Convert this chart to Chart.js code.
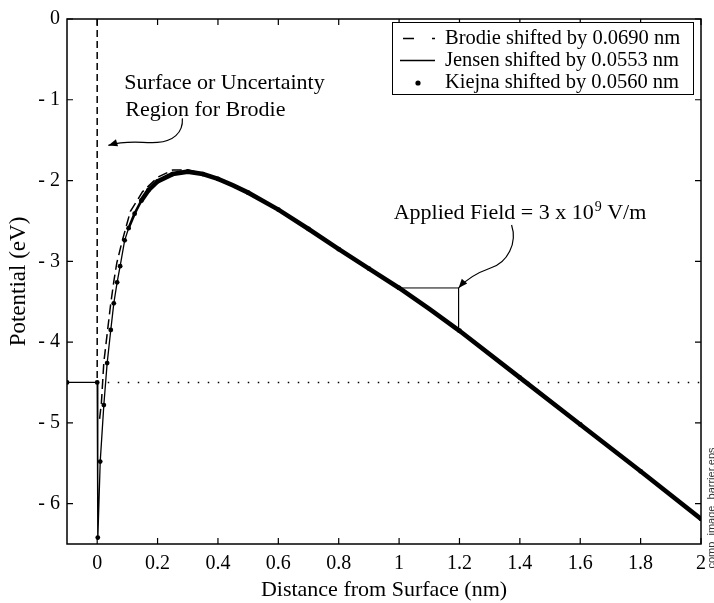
<!DOCTYPE html>
<html lang="en">
<head>
<meta charset="UTF-8">
<title>Shifted Image Potential Barriers</title>
<script src="https://cdn.jsdelivr.net/npm/chart.js@4.4.1/dist/chart.umd.min.js"></script>
<style>
  html, body { margin: 0; padding: 0; background: #fff; }
  #wrap { width: 714px; height: 603px; }
</style>
</head>
<body>
<div id="wrap"><canvas id="barrierChart" width="714" height="603"></canvas></div>
<script>
// Jensen barrier (solid), nm vs eV
const jensenX = [-0.1, 0, 0.002, 0.01, 0.022, 0.033, 0.045, 0.055, 0.066, 0.076, 0.091, 0.104, 0.124, 0.146,
                 0.17, 0.2, 0.25, 0.3, 0.35, 0.4, 0.45, 0.5, 0.6, 0.7, 0.8, 0.9, 1.0, 1.1, 1.2, 1.4, 1.6, 1.8, 2.0];
const jensenV = [-4.5, -4.5, -6.45, -5.48, -4.78, -4.26, -3.85, -3.52, -3.26, -3.06, -2.74, -2.59, -2.41, -2.25,
                 -2.12, -2.01, -1.92, -1.89, -1.92, -1.98, -2.06, -2.15, -2.36, -2.6, -2.85, -3.09, -3.33, -3.59, -3.86, -4.44, -5.02, -5.6, -6.19];

// Kiejna barrier (dots)
const kiejnaX = [-0.1, 0, 0.002, 0.01, 0.022, 0.033, 0.045, 0.055, 0.066, 0.076, 0.091, 0.104, 0.124, 0.146,
                 0.17, 0.2, 0.25, 0.3, 0.35, 0.4, 0.5, 0.6, 0.7, 0.8, 0.9, 1.0, 1.2, 1.4, 1.6, 1.8, 2.0];
const kiejnaV = [-4.5, -4.5, -6.42, -5.48, -4.78, -4.26, -3.85, -3.52, -3.26, -3.06, -2.74, -2.59, -2.41, -2.25,
                 -2.12, -2.01, -1.92, -1.89, -1.92, -1.98, -2.15, -2.36, -2.6, -2.85, -3.09, -3.33, -3.86, -4.44, -5.02, -5.6, -6.19];

// Brodie barrier (dashed)
const brodieX = [0.008, 0.014, 0.022, 0.033, 0.044, 0.055, 0.065, 0.082, 0.11, 0.15, 0.2, 0.25, 0.3, 0.35, 0.4,
                 0.5, 0.6, 0.8, 1.0, 1.2, 1.4, 1.6, 1.8, 2.0];
const brodieV = [-4.95, -4.75, -4.25, -3.9, -3.55, -3.25, -3.02, -2.76, -2.38, -2.14, -1.96, -1.87, -1.87, -1.91, -1.97,
                 -2.15, -2.36, -2.85, -3.33, -3.86, -4.44, -5.02, -5.6, -6.19];

// surface / uncertainty region for Brodie
const surfaceX = [0, 0];
const surfaceV = [0, -4.5];

// Fermi level
const fermiX = [0.035, 2];
const fermiV = [-4.5, -4.5];

// slope triangle for the applied field
const fieldX = [1.008, 1.197, 1.197];
const fieldV = [-3.33, -3.33, -3.86];

const xTicks = [0, 0.2, 0.4, 0.6, 0.8, 1, 1.2, 1.4, 1.6, 1.8, 2];
const xTickLabels = ['0', '0.2', '0.4', '0.6', '0.8', '1', '1.2', '1.4', '1.6', '1.8', '2'];
const yTicks = [0, -1, -2, -3, -4, -5, -6];
const yTickLabels = ['0', '- 1', '- 2', '- 3', '- 4', '- 5', '- 6'];

const seriesLabels = ['Brodie shifted by 0.0690 nm', 'Jensen shifted by 0.0553 nm', 'Kiejna shifted by 0.0560 nm'];

const SERIF = "'Liberation Serif', 'Times New Roman', Times, serif";

function pts(xs, vs) {
  return xs.map((x, i) => ({ x: x, y: vs[i] }));
}

function arrowHead(ctx, fromX, fromY, tipX, tipY) {
  const ang = Math.atan2(tipY - fromY, tipX - fromX);
  const len = 9, half = 3.6;
  ctx.beginPath();
  ctx.moveTo(tipX, tipY);
  ctx.lineTo(tipX - len * Math.cos(ang) + half * Math.sin(ang), tipY - len * Math.sin(ang) - half * Math.cos(ang));
  ctx.lineTo(tipX - len * Math.cos(ang) - half * Math.sin(ang), tipY - len * Math.sin(ang) + half * Math.cos(ang));
  ctx.closePath();
  ctx.fill();
}

// curvy arrow: two cubic pieces given as offsets from the tip
function curlyArrow(ctx, tx, ty, o) {
  ctx.beginPath();
  ctx.moveTo(tx + o[0], ty + o[1]);
  ctx.bezierCurveTo(tx + o[2], ty + o[3], tx + o[4], ty + o[5], tx + o[6], ty + o[7]);
  ctx.bezierCurveTo(tx + o[8], ty + o[9], tx + o[10], ty + o[11], tx, ty);
  ctx.stroke();
  arrowHead(ctx, tx + o[10], ty + o[11], tx, ty);
}

const paperPlugin = {
  id: 'paper',
  beforeDraw(chart) {
    const ctx = chart.ctx;
    ctx.save();
    ctx.fillStyle = '#fff';
    ctx.fillRect(0, 0, chart.width, chart.height);
    ctx.restore();
  },
  afterDraw(chart) {
    const { ctx, chartArea: a } = chart;
    const xs = chart.scales.x, ys = chart.scales.y;
    ctx.save();

    // axes box with inward ticks on all sides
    ctx.strokeStyle = '#000';
    ctx.lineWidth = 1.5;
    ctx.strokeRect(a.left, a.top, a.right - a.left, a.bottom - a.top);
    ctx.lineWidth = 1.2;
    ctx.beginPath();
    xTicks.forEach(v => {
      const px = xs.getPixelForValue(v);
      ctx.moveTo(px, a.bottom); ctx.lineTo(px, a.bottom - 6);
      ctx.moveTo(px, a.top); ctx.lineTo(px, a.top + 6);
    });
    yTicks.forEach(v => {
      const py = ys.getPixelForValue(v);
      ctx.moveTo(a.left, py); ctx.lineTo(a.left + 6, py);
      ctx.moveTo(a.right, py); ctx.lineTo(a.right - 6, py);
    });
    ctx.stroke();

    // legend box
    const lx = 392.5, ly = 22.5, lw = 301, lh = 72;
    ctx.fillStyle = '#fff';
    ctx.fillRect(lx, ly, lw, lh);
    ctx.lineWidth = 1;
    ctx.strokeRect(lx, ly, lw, lh);
    ctx.lineWidth = 1.5;
    ctx.beginPath();
    ctx.moveTo(403, 38.5); ctx.lineTo(414, 38.5);
    ctx.moveTo(432, 38.5); ctx.lineTo(435, 38.5);
    ctx.moveTo(400, 60.5); ctx.lineTo(435, 60.5);
    ctx.stroke();
    ctx.fillStyle = '#000';
    ctx.beginPath();
    ctx.arc(418, 83, 2.6, 0, Math.PI * 2);
    ctx.fill();
    ctx.font = '20.5px ' + SERIF;
    ctx.textAlign = 'left';
    ctx.textBaseline = 'alphabetic';
    ctx.fillText(seriesLabels[0], 445, 43.5);
    ctx.fillText(seriesLabels[1], 445, 65.5);
    ctx.fillText(seriesLabels[2], 445, 87.5);

    // annotations
    ctx.font = '22px ' + SERIF;
    const sx = xs.getPixelForValue(0.09);
    ctx.fillText('Surface or Uncertainty', sx, ys.getPixelForValue(-0.872));
    ctx.fillText('Region for Brodie', sx + 1, ys.getPixelForValue(-1.198));

    const fx = xs.getPixelForValue(0.982), fy = ys.getPixelForValue(-2.48);
    const part1 = 'Applied Field = 3 x 10';
    ctx.fillText(part1, fx, fy);
    let w = ctx.measureText(part1).width;
    ctx.font = '14px ' + SERIF;
    ctx.fillText('9', fx + w + 1, fy - 8);
    w += ctx.measureText('9').width + 1;
    ctx.font = '22px ' + SERIF;
    ctx.fillText(' V/m', fx + w, fy);

    ctx.lineWidth = 1.2;
    ctx.strokeStyle = '#000';
    curlyArrow(ctx, xs.getPixelForValue(0.037), ys.getPixelForValue(-1.565),
      [74, -27, 75, -12, 64, -4, 49, -3, 34, -2, 20, -6]);
    curlyArrow(ctx, xs.getPixelForValue(1.197), ys.getPixelForValue(-3.33),
      [53, -63, 59, -45, 49, -25, 32, -20, 18, -15, 7, -8]);

    // file tag along the right edge
    ctx.save();
    ctx.translate(714.5, 508);
    ctx.rotate(-Math.PI / 2);
    ctx.font = '11px "Liberation Sans", Arial, sans-serif';
    ctx.fillStyle = '#333';
    ctx.textAlign = 'center';
    ctx.fillText('comp_image_barrier.eps', 0, 0);
    ctx.restore();

    ctx.restore();
  }
};

const ctx = document.getElementById('barrierChart').getContext('2d');
const barrierChart = new Chart(ctx, {
  type: 'scatter',
  data: {
    datasets: [
      {
        label: seriesLabels[2],
        data: pts(kiejnaX, kiejnaV),
        showLine: false,
        pointRadius: 2.4,
        pointBackgroundColor: '#000',
        pointBorderWidth: 0,
        order: 0
      },
      {
        label: seriesLabels[1],
        data: pts(jensenX, jensenV),
        showLine: true,
        borderColor: '#000',
        borderWidth: 1.3,
        pointRadius: 0,
        segment: {
          borderWidth: c => c.p0.parsed.x >= 0.146 ? 4.6 : (c.p0.parsed.x >= 0.1 ? 2.6 : 1.3)
        },
        order: 1
      },
      {
        label: seriesLabels[0],
        data: pts(brodieX, brodieV),
        showLine: true,
        borderColor: '#000',
        borderWidth: 1.5,
        borderDash: [10, 5],
        pointRadius: 0,
        order: 2
      },
      {
        label: 'surface',
        data: pts(surfaceX, surfaceV),
        showLine: true,
        borderColor: '#000',
        borderWidth: 1.5,
        borderDash: [7, 4],
        pointRadius: 0,
        order: 3
      },
      {
        label: 'fermi',
        data: pts(fermiX, fermiV),
        showLine: true,
        borderColor: '#000',
        borderWidth: 1.5,
        borderDash: [1.5, 8.5],
        pointRadius: 0,
        order: 3
      },
      {
        label: 'field',
        data: pts(fieldX, fieldV),
        showLine: true,
        borderColor: '#000',
        borderWidth: 1,
        pointRadius: 0,
        order: 3
      }
    ]
  },
  options: {
    responsive: false,
    animation: false,
    layout: { padding: { top: 12, right: 12, left: 0, bottom: 0 } },
    plugins: {
      legend: { display: false },
      tooltip: { enabled: false }
    },
    scales: {
      x: {
        type: 'linear',
        min: -0.1,
        max: 2,
        grid: { display: false, drawTicks: false },
        border: { display: false },
        afterBuildTicks: s => { s.ticks = xTicks.map(v => ({ value: v })); },
        afterFit: s => { s.height = 59; },
        ticks: {
          autoSkip: false,
          maxRotation: 0,
          padding: 8,
          color: '#000',
          font: { family: SERIF, size: 20 },
          callback: (v, i) => xTickLabels[i]
        },
        title: {
          display: true,
          text: 'Distance from Surface (nm)',
          color: '#000',
          font: { family: SERIF, size: 22 },
          padding: { top: 0, bottom: 0 }
        }
      },
      y: {
        type: 'linear',
        min: -6.5,
        max: 0,
        grid: { display: false, drawTicks: false },
        border: { display: false },
        afterBuildTicks: s => { s.ticks = yTicks.map(v => ({ value: v })); },
        afterFit: s => { s.width = 67; },
        ticks: {
          autoSkip: false,
          padding: 7,
          color: '#000',
          font: { family: SERIF, size: 20 },
          callback: (v, i) => yTickLabels[i]
        },
        title: {
          display: true,
          text: 'Potential (eV)',
          color: '#000',
          font: { family: SERIF, size: 23 },
          padding: { top: 5, bottom: 0 }
        }
      }
    }
  },
  plugins: [paperPlugin]
});
</script>
</body>
</html>
